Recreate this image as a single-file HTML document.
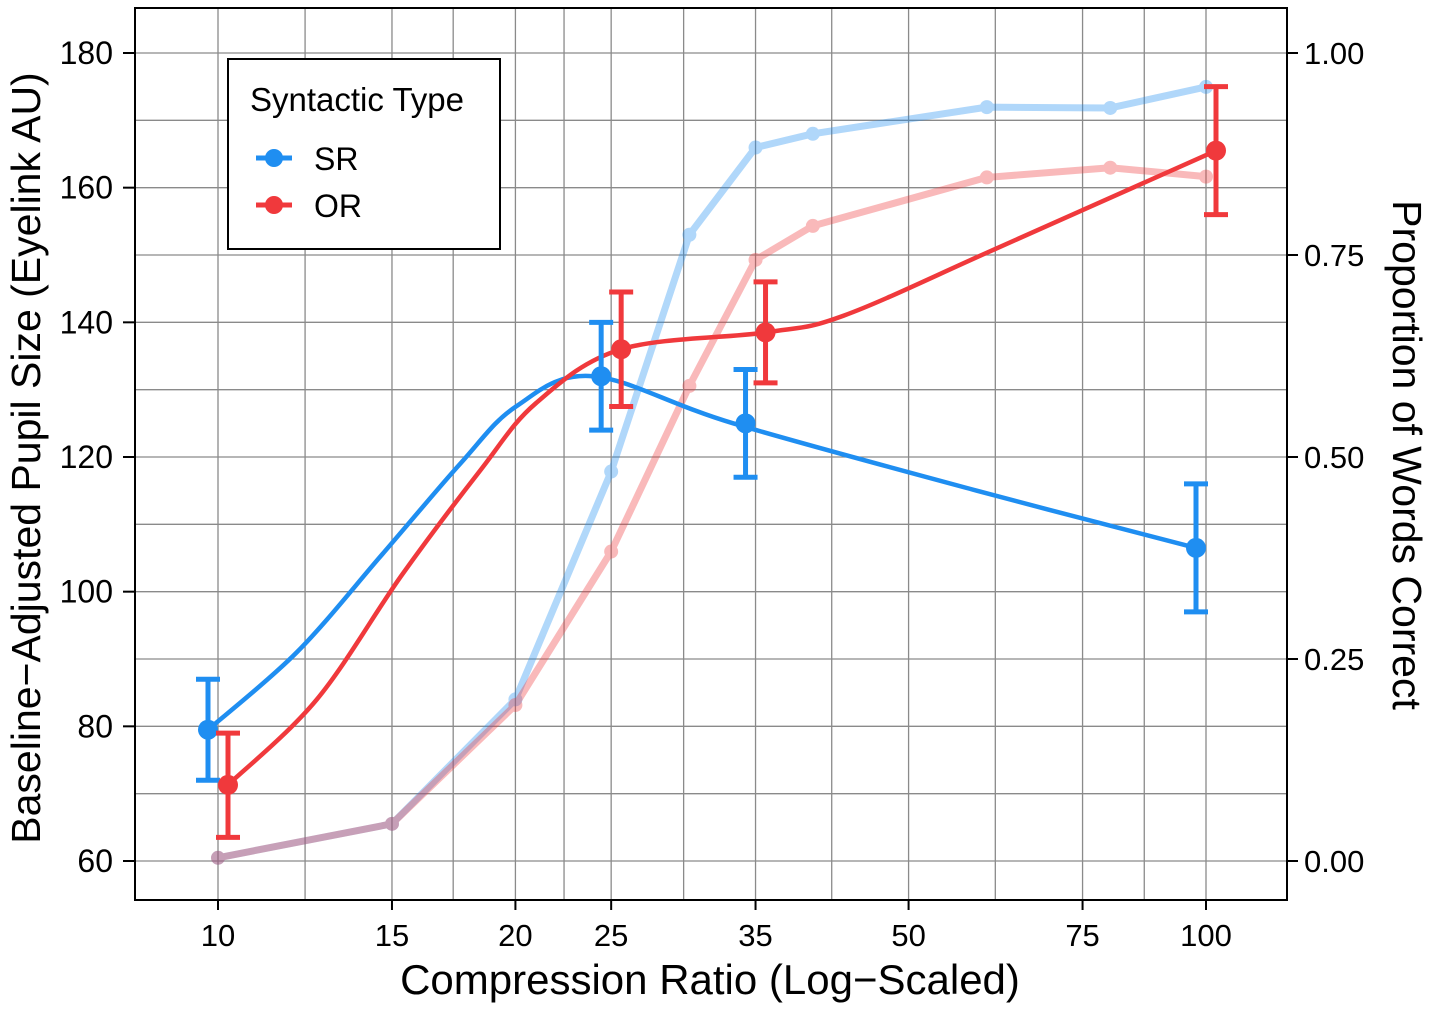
<!DOCTYPE html>
<html><head><meta charset="utf-8"><style>
body{margin:0;background:#fff;}
svg{display:block;font-family:"Liberation Sans",Arial,sans-serif;}
</style></head><body>
<svg id="chart" width="1430" height="1009" viewBox="0 0 1430 1009"></svg>
<script>
const ratios = [10,15,20,25,30,35,40,60,80,100];
const srProp = [0.004,0.046,0.200,0.482,0.775,0.883,0.900,0.933,0.932,0.958];
const orProp = [0.004,0.046,0.193,0.383,0.588,0.744,0.786,0.846,0.858,0.847];
const pupilX = [10,25,35,100];
const srPupil = [79.5,132,125,106.5];
const srLo = [72,124,117,97];
const srHi = [87,140,133,116];
const orPupil = [71.3,136,138.5,165.5];
const orLo = [63.5,127.5,131,156];
const orHi = [79,144.5,146,175];
const srCurveX = [10,12.3,15,18,20.5,24.5,34,60,100];
const srCurveY = [79.5,91,105.5,119,127.5,132,125,115,106.5];
const orCurveX = [10,12.3,15,18,20.5,25,35,42,60,100];
const orCurveY = [71.3,84,102.5,118,128,136,138.5,141,151,165.5];
const xTicks = [10,15,20,25,35,50,75,100];
const xMinor = [12.25,17.3,22.4,29.6,41.8,61.2,86.6];
const yTicks = [60,80,100,120,140,160,180];
const yMinor = [70,90,110,130,150,170];
const pTicks = [0,0.25,0.5,0.75,1];
const pLabels = ["0.00","0.25","0.50","0.75","1.00"];

const L=135,R=1287,T=8,B=900;
const X=v=>218+(Math.log10(v)-1)*988;
const Y=v=>861-(v-60)*808/120;
const P=p=>861-p*808;
const svg=document.getElementById('chart');
const NS='http://www.w3.org/2000/svg';
function mk(tag,attrs,parent){const e=document.createElementNS(NS,tag);for(const k in attrs)e.setAttribute(k,attrs[k]);(parent||svg).appendChild(e);return e;}
const SR='#1f8ef1', OR='#f0393c';

const grid=mk('g',{});


[...xTicks,...xMinor].forEach(v=>{mk('line',{x1:X(v),x2:X(v),y1:T,y2:B,stroke:'#8a8a8a','stroke-width':1.3},grid);});
[...yTicks,...yMinor].forEach(v=>{mk('line',{x1:L,x2:R,y1:Y(v),y2:Y(v),stroke:'#8a8a8a','stroke-width':1.3},grid);});

function path(xs,ys,fx,fy,dx){return xs.map((x,i)=>[fx(x)+dx,fy(ys[i])]);}
function smooth(pts){let d='M'+pts[0][0]+','+pts[0][1];for(let i=0;i<pts.length-1;i++){const p0=pts[i-1]||pts[i],p1=pts[i],p2=pts[i+1],p3=pts[i+2]||p2;const c1=[p1[0]+(p2[0]-p0[0])/6,p1[1]+(p2[1]-p0[1])/6],c2=[p2[0]-(p3[0]-p1[0])/6,p2[1]-(p3[1]-p1[1])/6];d+=' C'+c1+' '+c2+' '+p2;}return d;}

[[srProp,SR,'sr-accuracy'],[orProp,OR,'or-accuracy']].forEach(([arr,c,n])=>{
  const g=mk('g',{opacity:0.35});
  
  
  const pts=path(ratios,arr,X,P,0);
  mk('polyline',{points:pts.map(p=>p.join(',')).join(' '),fill:'none',stroke:c,'stroke-width':7,'stroke-linejoin':'round'},g);
  pts.forEach(p=>{const d=mk('circle',{cx:p[0],cy:p[1],r:7,fill:c},g);
    
    });
});

[[srCurveX,srCurveY,SR,-10,'sr-pupil-curve'],[orCurveX,orCurveY,OR,10,'or-pupil-curve']].forEach(([xs,ys,c,dx,n])=>{
  const e=mk('path',{d:smooth(path(xs,ys,X,Y,dx)),fill:'none',stroke:c,'stroke-width':4.5});
  
  
});
[[srPupil,srLo,srHi,SR,-10,'sr'],[orPupil,orLo,orHi,OR,10,'or']].forEach(([v,lo,hi,c,dx,n])=>{
  pupilX.forEach((x,i)=>{
    const cx=X(x)+dx;
    const g=mk('g',{stroke:c,'stroke-width':5});
    
    
    mk('line',{x1:cx,x2:cx,y1:Y(lo[i]),y2:Y(hi[i])},g);
    mk('line',{x1:cx-12,x2:cx+12,y1:Y(lo[i]),y2:Y(lo[i])},g);
    mk('line',{x1:cx-12,x2:cx+12,y1:Y(hi[i]),y2:Y(hi[i])},g);
    const d=mk('circle',{cx:cx,cy:Y(v[i]),r:10,fill:c});
    
    
  });
});

const border=mk('rect',{x:L,y:T,width:R-L,height:B-T,fill:'none',stroke:'#000','stroke-width':2});



xTicks.forEach(v=>{mk('line',{x1:X(v),x2:X(v),y1:B,y2:B+10,stroke:'#000','stroke-width':2});
  const t=mk('text',{x:X(v),y:946,'text-anchor':'middle','font-size':31});t.textContent=v;
  
  });
yTicks.forEach(v=>{mk('line',{x1:L-12,x2:L,y1:Y(v),y2:Y(v),stroke:'#000','stroke-width':2});
  const t=mk('text',{x:113,y:Y(v)+11,'text-anchor':'end','font-size':32});t.textContent=v;
  
  });
pTicks.forEach((v,i)=>{mk('line',{x1:R,x2:R+11,y1:P(v),y2:P(v),stroke:'#000','stroke-width':2});
  const t=mk('text',{x:1304,y:P(v)+11,'font-size':31});t.textContent=pLabels[i];
  
  });

let t=mk('text',{x:710,y:994,'text-anchor':'middle','font-size':42});t.textContent='Compression Ratio (Log\u2212Scaled)';


t=mk('text',{transform:'translate(40,458) rotate(-90)','text-anchor':'middle','font-size':41});t.textContent='Baseline\u2212Adjusted Pupil Size (Eyelink AU)';


t=mk('text',{transform:'translate(1393,455) rotate(90)','text-anchor':'middle','font-size':41});t.textContent='Proportion of Words Correct';



const lg=mk('g',{});


mk('rect',{x:228,y:59,width:272,height:190,fill:'#fff',stroke:'#000','stroke-width':2},lg);
t=mk('text',{x:250,y:111,'font-size':33},lg);t.textContent='Syntactic Type';
[['SR',SR,158],['OR',OR,205]].forEach(([n,c,y])=>{
  const e=mk('g',{},lg);
  
  
  mk('line',{x1:256,x2:292,y1:y,y2:y,stroke:c,'stroke-width':5},e);
  mk('circle',{cx:274,cy:y,r:9,fill:c},e);
  const tt=mk('text',{x:314,y:y+12,'font-size':32},e);tt.textContent=n;
});
</script>
</body></html>
